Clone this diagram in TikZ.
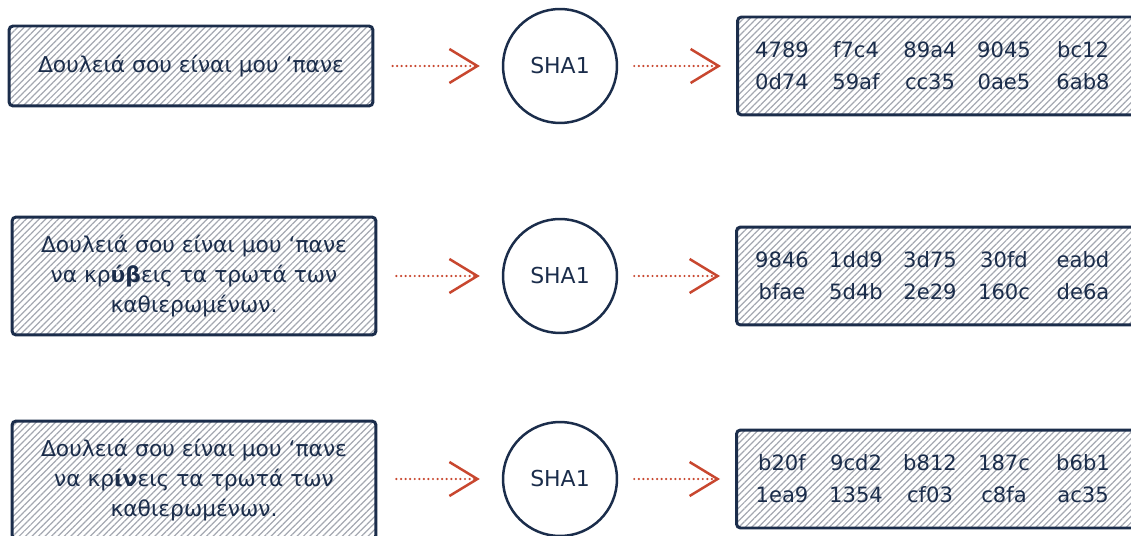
\documentclass[tikz,border=0pt]{standalone}
\usepackage{fontspec}
\setmainfont{DejaVu Sans}
\usetikzlibrary{positioning,arrows.meta,patterns.meta}
\definecolor{navy}{HTML}{1B2D4B}
\definecolor{rust}{HTML}{C8472F}
\definecolor{hatch}{HTML}{A4A8B1}
% 1 px of the reference = 0.02cm = 0.567pt
\tikzset{
  boxbase/.style = {draw=navy, line width=1.7pt, rounded corners=2.3pt, text=navy,
                    pattern={Lines[angle=45, distance=2.6pt, line width=0.7pt]},
                    pattern color=hatch},
  msg/.style     = {boxbase, minimum width=7.28cm, align=center,
                    font=\fontsize{12.4}{17}\selectfont},
  digest/.style  = {boxbase, minimum width=8.4cm, minimum height=1.96cm, anchor=west},
  hashfn/.style  = {circle, draw=navy, line width=1.42pt, minimum size=2.28cm,
                    text=navy, font=\fontsize{12.5}{15}\selectfont},
  hexword/.style = {text=navy, inner sep=0pt, font=\fontsize{12}{14}\selectfont},
  flow/.style    = {rust, line width=1.4pt, dash pattern=on 0pt off 2.6pt, line cap=round,
                    -{Straight Barb[length=0.56cm, width=0.68cm, line width=1.42pt]}}
}

\begin{document}
\begin{tikzpicture}[x=0.02cm, y=-0.02cm]
\useasboundingbox (0,0) rectangle (1131,536);
\clip (0,0) rectangle (1131,536);

% the three messages
\node[msg, minimum height=1.6cm]  (m1) at (191,66)  {Δουλειά σου είναι μου ‘πανε};
\node[msg, minimum height=2.36cm] (m2) at (194,276) {Δουλειά σου είναι μου ‘πανε\\
  να κρ\textbf{ύβ}εις τα τρωτά των\\ καθιερωμένων.};
\node[msg, minimum height=2.36cm] (m3) at (194,480) {Δουλειά σου είναι μου ‘πανε\\
  να κρ\textbf{ίν}εις τα τρωτά των\\ καθιερωμένων.};

% the hash function, once per row
\node[hashfn] (h1) at (560,66)  {SHA1};
\node[hashfn] (h2) at (560,276) {SHA1};
\node[hashfn] (h3) at (560,479) {SHA1};

% the digests, cut off at the right
\node[digest] (d1) at (736,66)  {};
\node[digest] (d2) at (735,276) {};
\node[digest] (d3) at (735,479) {};

\foreach \w [count=\i] in {4789,f7c4,89a4,9045,bc12} {
  \pgfmathsetmacro\cx{{782,856,930,1004,1083}[\i-1]}
  \node[hexword] (d1a\i) at (\cx,50) {\w};
}
\foreach \w [count=\i] in {0d74,59af,cc35,0ae5,6ab8} {
  \pgfmathsetmacro\cx{{782,856,930,1004,1083}[\i-1]}
  \node[hexword] (d1b\i) at (\cx,82) {\w};
}
\foreach \w [count=\i] in {9846,1dd9,3d75,30fd,eabd} {
  \pgfmathsetmacro\cx{{782,856,930,1004,1083}[\i-1]}
  \node[hexword] (d2a\i) at (\cx,260) {\w};
}
\foreach \w [count=\i] in {bfae,5d4b,2e29,160c,de6a} {
  \pgfmathsetmacro\cx{{782,856,930,1004,1083}[\i-1]}
  \node[hexword] (d2b\i) at (\cx,292) {\w};
}
\foreach \w [count=\i] in {b20f,9cd2,b812,187c,b6b1} {
  \pgfmathsetmacro\cx{{782,856,930,1004,1083}[\i-1]}
  \node[hexword] (d3a\i) at (\cx,463) {\w};
}
\foreach \w [count=\i] in {1ea9,1354,cf03,c8fa,ac35} {
  \pgfmathsetmacro\cx{{782,856,930,1004,1083}[\i-1]}
  \node[hexword] (d3b\i) at (\cx,495) {\w};
}

% connectors
\foreach \r in {1,2,3} {
  \draw[flow, shorten <=0.38cm, shorten >=0.44cm] (m\r.east |- h\r) -- (h\r.west);
  \draw[flow, shorten <=0.32cm, shorten >=0.3cm] (h\r.east) -- (d\r.west);
}
\end{tikzpicture}
\end{document}
